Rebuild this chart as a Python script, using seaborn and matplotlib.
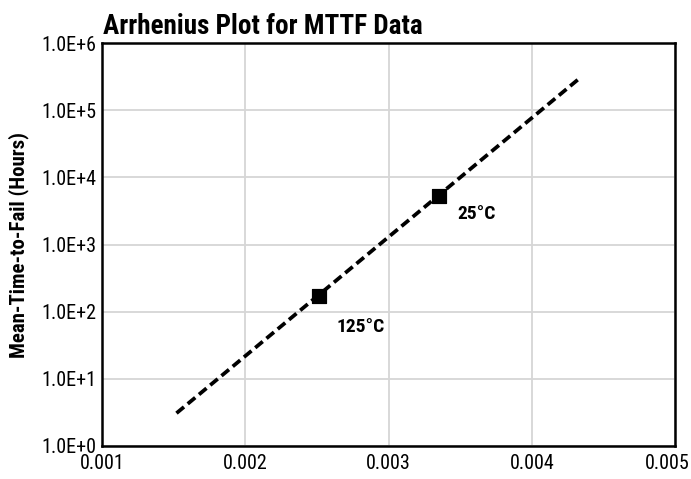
import matplotlib
matplotlib.use("Agg")
import matplotlib.pyplot as plt
import matplotlib.transforms as mtransforms
import seaborn as sns
import pandas as pd
from matplotlib.ticker import FixedLocator, FixedFormatter
from matplotlib import font_manager

# Measured MTTF at two stress temperatures (x = 1/T in 1/K)
inv_temp = [0.002512, 0.003354]
mttf_hours = [174, 5300]
point_labels = ["125°C", "25°C"]

# Extrapolated Arrhenius fit line endpoints
fit_x = [0.00152, 0.004345]
fit_y = [3.08, 3.13e5]

x_ticks = [0.001, 0.002, 0.003, 0.004, 0.005]
x_tick_labels = ["0.001", "0.002", "0.003", "0.004", "0.005"]
y_ticks = [1e0, 1e1, 1e2, 1e3, 1e4, 1e5, 1e6]
y_tick_labels = ["1.0E+0", "1.0E+1", "1.0E+2", "1.0E+3", "1.0E+4", "1.0E+5", "1.0E+6"]

sns.set_theme(style="whitegrid")
installed = {f.name for f in font_manager.fontManager.ttflist}
families = [f for f in ["Roboto Condensed", "Liberation Sans Narrow", "Roboto"] if f in installed]
plt.rcParams["font.family"] = families + ["DejaVu Sans"]

fig = plt.figure(figsize=(6.91, 4.79), dpi=100)
ax = fig.add_axes([0.1476, 0.0689, 0.8293, 0.8413])

fit_df = pd.DataFrame({"x": fit_x, "y": fit_y})
pts_df = pd.DataFrame({"x": inv_temp, "y": mttf_hours})

sns.lineplot(data=fit_df, x="x", y="y", ax=ax, color="black",
             linewidth=2.7, linestyle=(0, (2.6, 1.3)), zorder=3)
sns.scatterplot(data=pts_df, x="x", y="y", ax=ax, marker="s", s=115,
                color="black", edgecolor="black", zorder=4)

ax.set_yscale("log")
ax.set_xlim(0.001, 0.005)
ax.set_ylim(1, 1e6)
ax.xaxis.set_major_locator(FixedLocator(x_ticks))
ax.xaxis.set_major_formatter(FixedFormatter(x_tick_labels))
ax.yaxis.set_major_locator(FixedLocator(y_ticks))
ax.yaxis.set_major_formatter(FixedFormatter(y_tick_labels))
ax.yaxis.set_minor_locator(FixedLocator([]))

ax.grid(True, which="major", color="#d6d6d6", linewidth=1.3)
for sp in ax.spines.values():
    sp.set_color("black")
    sp.set_linewidth(1.8)
ax.tick_params(axis="y", length=0, pad=4, labelsize=14.5, colors="black")
ax.tick_params(axis="x", length=0, pad=6, labelsize=14.5, colors="black")

# keep the last x tick label inside the figure edge
last = ax.get_xticklabels()[-1]
last.set_transform(last.get_transform() +
                   mtransforms.ScaledTranslation(-8 / 100, 0, fig.dpi_scale_trans))

ax.set_xlabel("")
ax.set_ylabel("Mean-Time-to-Fail (Hours)", fontsize=15, fontweight="bold",
              color="black", labelpad=9)

# Temperature annotations beside each measured point
offsets = [(13, -23), (13, -13)]
for xv, yv, lab, (dx, dy) in zip(inv_temp, mttf_hours, point_labels, offsets):
    ax.annotate(lab, (xv, yv), xytext=(dx, dy), textcoords="offset points",
                fontsize=14, fontweight="bold", color="black",
                ha="left", va="center")

fig.text(0.149, 0.916, "Arrhenius Plot for MTTF Data", fontsize=19.5,
         fontweight="bold", color="black", ha="left", va="bottom")

fig.savefig("out.png", dpi=100)
